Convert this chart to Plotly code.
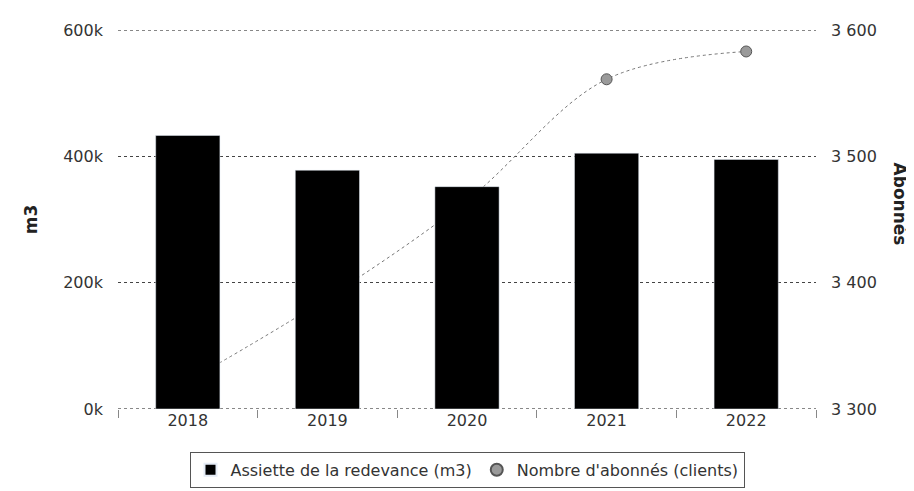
import plotly.graph_objects as go

years = ["2018", "2019", "2020", "2021", "2022"]
assiette_m3 = [433000, 378000, 352000, 405000, 395000]
abonnes = [3322, 3388, 3465, 3561, 3583]

left_tickvals = [0, 200000, 400000, 600000]
left_ticktext = ["0k", "200k", "400k", "600k"]
right_tickvals = [3300, 3400, 3500, 3600]
right_ticktext = ["3 300", "3 400", "3 500", "3 600"]

font_family = "DejaVu Sans"
tick_font = dict(family=font_family, size=16, color="#333333")
grid_color = "#444444"

fig = go.Figure()

# Line on primary y (right side) so that bars (overlay axis) are drawn on top
fig.add_trace(go.Scatter(
    x=years, y=abonnes, name="Nombre d'abonnés (clients)",
    mode="lines",
    line=dict(color="#777777", width=1, dash="dot", shape="spline", smoothing=1.0),
    yaxis="y", showlegend=False, hoverinfo="skip",
))
fig.add_trace(go.Scatter(
    x=years, y=abonnes, name="Nombre d'abonnés (clients)",
    mode="markers",
    marker=dict(symbol="circle", size=11, color="#9a9a9a",
                line=dict(color="#555555", width=1)),
    yaxis="y", legendrank=2,
))

fig.add_trace(go.Bar(
    x=years, y=assiette_m3, name="Assiette de la redevance (m3)",
    marker=dict(color="#000000"),
    yaxis="y2", legendrank=1,
))

# gridlines at the range edges (Plotly omits them at the plot border)
edge_shapes = [
    dict(type="line", xref="paper", x0=0, x1=1, yref="y", y0=v, y1=v,
         line=dict(color="#111111", width=1, dash="dot"), layer="below")
    for v in (right_tickvals[0], right_tickvals[-1])
]

fig.update_layout(
    width=914, height=491,
    margin=dict(l=110, r=106, t=22, b=89),
    plot_bgcolor="white", paper_bgcolor="white",
    bargap=0.54,
    showlegend=True,
    shapes=edge_shapes,
    legend=dict(
        orientation="h", x=0.5, xanchor="center", y=-0.11, yanchor="top",
        bordercolor="#555555", borderwidth=1, bgcolor="white",
        font=dict(family=font_family, size=16, color="#333333"),
        itemsizing="constant",
    ),
    xaxis=dict(
        type="category",
        tickfont=tick_font,
        showgrid=False,
        ticks="outside", tickson="boundaries", ticklen=8, tickcolor="#888888",
        showline=False, zeroline=False,
    ),
    yaxis=dict(
        side="right",
        range=[3300, 3600],
        tickvals=right_tickvals, ticktext=right_ticktext,
        tickfont=tick_font,
        showgrid=True, gridcolor=grid_color, griddash="dot", gridwidth=1,
        zeroline=False, showline=False,
        ticks="", ticklabelstandoff=14,
    ),
    yaxis2=dict(
        side="left", overlaying="y",
        range=[0, 600000],
        tickvals=left_tickvals, ticktext=left_ticktext,
        tickfont=tick_font,
        showgrid=False, zeroline=False, showline=False,
        ticks="", ticklabelstandoff=14,
    ),
    annotations=[
        dict(text="<b>m3</b>", xref="paper", yref="paper", x=-0.125, y=0.50,
             xanchor="center", yanchor="middle", textangle=-90, showarrow=False,
             font=dict(family=font_family, size=17, color="#222222")),
        dict(text="<b>Abonnés</b>", xref="paper", yref="paper", x=1.12, y=0.54,
             xanchor="center", yanchor="middle", textangle=90, showarrow=False,
             font=dict(family=font_family, size=17, color="#222222")),
    ],
)

fig.write_html("out.html")
